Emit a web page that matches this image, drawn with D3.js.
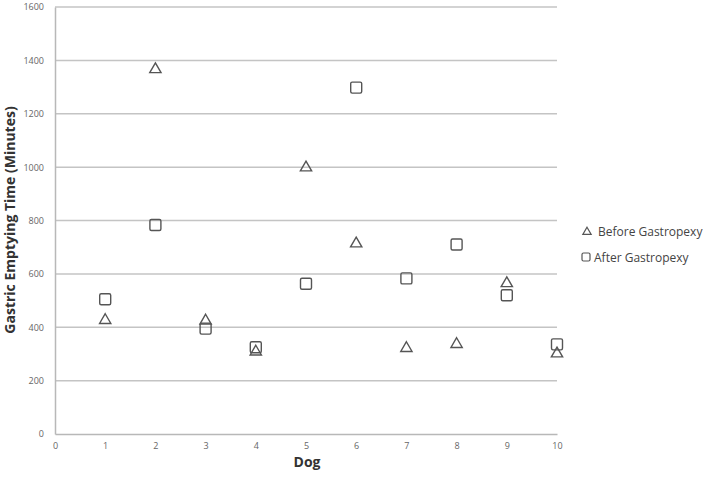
<!DOCTYPE html>
<html>
<head>
<meta charset="utf-8">
<script src="https://cdn.jsdelivr.net/npm/d3@7"></script>
<style>
body { margin: 0; background: #fff; }
text { font-family: "Open Sans", "Noto Sans", sans-serif; }
</style>
</head>
<body>
<div id="chart"></div>
<script>
var dogs = [1, 2, 3, 4, 5, 6, 7, 8, 9, 10];
var before = [430, 1370, 428, 312, 1002, 717, 325, 340, 568, 305];
var after = [505, 783, 395, 325, 563, 1298, 583, 710, 520, 336];
var yTicks = [0, 200, 400, 600, 800, 1000, 1200, 1400, 1600];
var xTicks = [0, 1, 2, 3, 4, 5, 6, 7, 8, 9, 10];

var svgWidth = 709;
var svgHeight = 482;

var svg = d3.select("#chart").append("svg").attr("width", svgWidth).attr("height", svgHeight);

var x = d3.scaleLinear().domain([0, 10]).range([55, 557]);
var y = d3.scaleLinear().domain([0, 1600]).range([434, 7]);

// gridlines
svg.append("g").selectAll("line").data(yTicks.slice(1)).enter().append("line")
	.attr("x1", x(0)).attr("x2", x(10))
	.attr("y1", d => y(d)).attr("y2", d => y(d))
	.attr("stroke", "#c4c4c4").attr("stroke-width", 1.5);

// axes
var leftAxis = d3.axisLeft(y).tickValues(yTicks).tickFormat(d3.format("d")).tickSize(0).tickPadding(11);
var bottomAxis = d3.axisBottom(x).tickValues(xTicks).tickFormat(d3.format("d")).tickSize(0).tickPadding(9);

var gy = svg.append("g").attr("transform", `translate(${x(0)},0)`).call(leftAxis);
var gx = svg.append("g").attr("transform", `translate(0,${y(0)})`).call(bottomAxis);
[gx, gy].forEach(function(g) {
	g.select(".domain").attr("stroke", "#b8b8b8").attr("stroke-width", 1.5);
	g.selectAll("text").attr("fill", "#666").style("font-size", "9px");
});

// axis titles
svg.append("text").attr("x", 307).attr("y", 467).attr("text-anchor", "middle")
	.style("font-size", "14px").style("font-weight", "bold").attr("fill", "#333").text("Dog");
svg.append("text").attr("transform", "translate(15,220) rotate(-90)").attr("text-anchor", "middle")
	.style("font-size", "14px").style("font-weight", "bold").attr("fill", "#333")
	.text("Gastric Emptying Time (Minutes)");

var tri = d3.symbol().type(d3.symbolTriangle).size(55);
var sq = "M-5.5,-4 Q-5.5,-5.5 -4,-5.5 L4,-5.5 Q5.5,-5.5 5.5,-4 L5.5,4 Q5.5,5.5 4,5.5 L-4,5.5 Q-5.5,5.5 -5.5,4 Z";
var markColor = "#555";

svg.append("g").selectAll("path").data(dogs).enter().append("path")
	.attr("d", sq)
	.attr("transform", (d, i) => `translate(${x(d)},${y(after[i])})`)
	.attr("fill", "#fff").attr("fill-opacity", 0).attr("stroke", markColor).attr("stroke-width", 1.4);

svg.append("g").selectAll("path").data(dogs).enter().append("path")
	.attr("d", tri)
	.attr("transform", (d, i) => `translate(${x(d)},${y(before[i]) + 1})`)
	.attr("fill", "none").attr("stroke", markColor).attr("stroke-width", 1.4);

// legend
var legend = svg.append("g");
legend.append("path").attr("d", d3.symbol().type(d3.symbolTriangle).size(30))
	.attr("transform", "translate(587,232)").attr("fill", "none").attr("stroke", markColor).attr("stroke-width", 1.2);
legend.append("text").attr("x", 598).attr("y", 236).style("font-size", "12px").attr("fill", "#444").text("Before Gastropexy");
legend.append("rect").attr("x", 582).attr("y", 253).attr("width", 8).attr("height", 8).attr("rx", 1.5)
	.attr("fill", "none").attr("stroke", markColor).attr("stroke-width", 1.2);
legend.append("text").attr("x", 594).attr("y", 262).style("font-size", "12px").attr("fill", "#444").text("After Gastropexy");
</script>
</body>
</html>
